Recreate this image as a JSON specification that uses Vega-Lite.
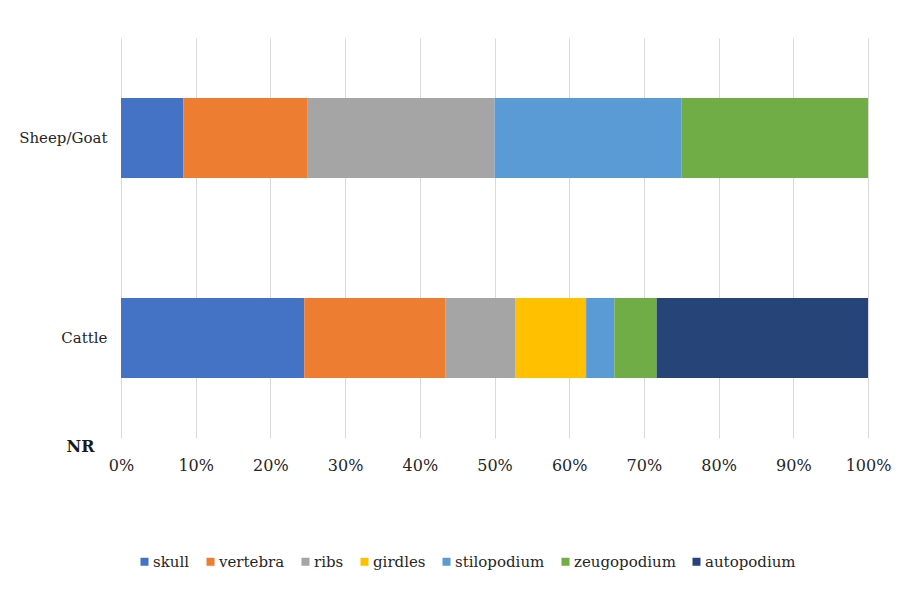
{
  "$schema": "https://vega.github.io/schema/vega-lite/v6.json",
  "autosize": "none",
  "width": 747,
  "height": 400,
  "padding": {"left": 121, "top": 38, "right": 36, "bottom": 152},
  "background": "white",
  "config": {
    "view": {"stroke": null},
    "font": "DejaVu Serif"
  },
  "data": {
    "values": [
      {"animal": "Sheep/Goat", "part": "skull", "n": 1},
      {"animal": "Sheep/Goat", "part": "vertebra", "n": 2},
      {"animal": "Sheep/Goat", "part": "ribs", "n": 3},
      {"animal": "Sheep/Goat", "part": "stilopodium", "n": 3},
      {"animal": "Sheep/Goat", "part": "zeugopodium", "n": 3},
      {"animal": "Cattle", "part": "skull", "n": 13},
      {"animal": "Cattle", "part": "vertebra", "n": 10},
      {"animal": "Cattle", "part": "ribs", "n": 5},
      {"animal": "Cattle", "part": "girdles", "n": 5},
      {"animal": "Cattle", "part": "stilopodium", "n": 2},
      {"animal": "Cattle", "part": "zeugopodium", "n": 3},
      {"animal": "Cattle", "part": "autopodium", "n": 15}
    ]
  },
  "transform": [
    {"calculate": "indexof(['skull','vertebra','ribs','girdles','stilopodium','zeugopodium','autopodium'], datum.part)", "as": "ord"}
  ],
  "mark": {"type": "bar"},
  "encoding": {
    "y": {
      "field": "animal",
      "type": "nominal",
      "sort": ["Sheep/Goat", "Cattle"],
      "scale": {"paddingInner": 0.6, "paddingOuter": 0.3},
      "axis": {
        "title": "NR",
        "titleAngle": 0,
        "titleX": -41,
        "titleY": 408,
        "titleAlign": "center",
        "titleBaseline": "middle",
        "titleFont": "DejaVu Serif",
        "titleFontSize": 16,
        "titleFontWeight": "bold",
        "titleColor": "#1a1a1a",
        "domain": false,
        "ticks": false,
        "labelPadding": 14,
        "labelFont": "DejaVu Serif",
        "labelFontSize": 15,
        "labelColor": "#262626"
      }
    },
    "x": {
      "field": "n",
      "type": "quantitative",
      "stack": "normalize",
      "scale": {"domain": [0, 1], "nice": false},
      "axis": {
        "title": null,
        "format": ".0%",
        "values": [0, 0.1, 0.2, 0.3, 0.4, 0.5, 0.6, 0.7, 0.8, 0.9, 1],
        "labelFlush": false,
        "domain": false,
        "ticks": false,
        "grid": true,
        "gridColor": "#d9d9d9",
        "gridWidth": 1,
        "labelPadding": 19,
        "labelFont": "DejaVu Serif",
        "labelFontSize": 16,
        "labelColor": "#262626"
      }
    },
    "color": {
      "field": "part",
      "type": "nominal",
      "sort": ["skull", "vertebra", "ribs", "girdles", "stilopodium", "zeugopodium", "autopodium"],
      "scale": {
        "domain": ["skull", "vertebra", "ribs", "girdles", "stilopodium", "zeugopodium", "autopodium"],
        "range": ["#4472C4", "#ED7D31", "#A5A5A5", "#FFC000", "#5B9BD5", "#70AD47", "#264478"]
      },
      "legend": {
        "title": null,
        "orient": "none",
        "direction": "horizontal",
        "legendX": 16,
        "legendY": 516,
        "symbolType": "square",
        "symbolSize": 64,
        "symbolStrokeWidth": 0,
        "labelOffset": 1,
        "columnPadding": 13,
        "labelFont": "DejaVu Serif",
        "labelFontSize": 15,
        "labelColor": "#262626"
      }
    },
    "order": {"field": "ord", "type": "quantitative"}
  }
}
